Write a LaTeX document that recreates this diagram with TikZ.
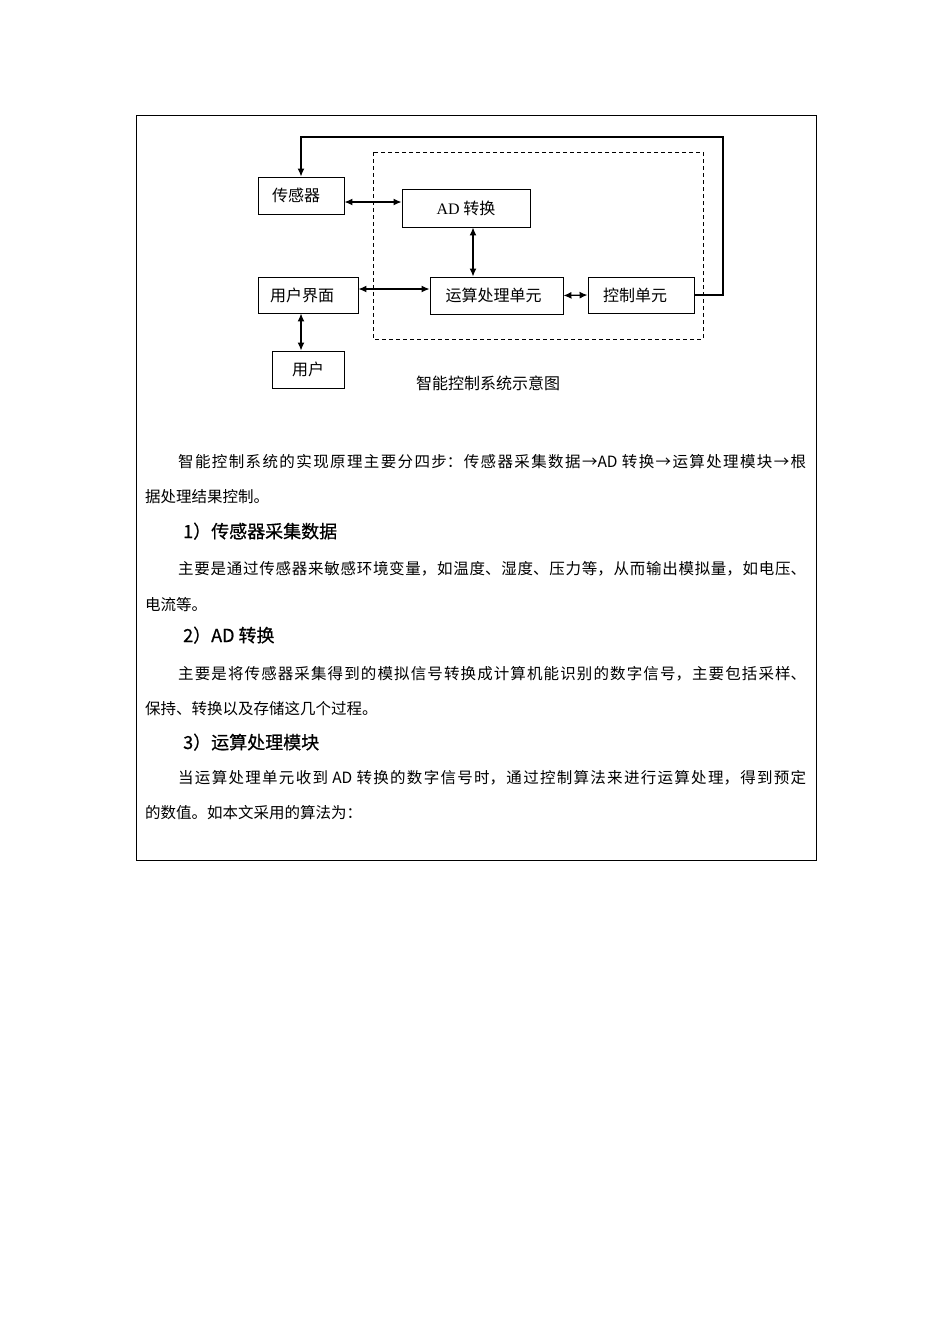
\documentclass[tikz,border=0pt]{standalone}
\usepackage{fontspec}
\setmainfont{Liberation Serif}
\newfontfamily\cjk{Noto Sans CJK SC}
\newfontfamily\cjkh[FakeBold=0.6]{Noto Sans CJK SC}
\usetikzlibrary{arrows.meta}
\XeTeXlinebreaklocale "zh"
\XeTeXlinebreakskip=0pt plus 3pt
\tikzset{
  box/.style={draw, line width=0.9pt, inner sep=0pt, minimum height=37pt,
    font=\cjk\fontsize{16}{18}\selectfont},
  dbl/.style={{Latex[length=8pt,width=7pt]}-{Latex[length=8pt,width=7pt]}, line width=1.3pt},
  one/.style={-{Latex[length=8pt,width=7pt]}, line width=1.3pt},
  txt/.style={anchor=base west, inner sep=0pt, font=\cjk\fontsize{15.5}{20}\selectfont},
  fullline/.style={txt, text width=628pt, align=justify,
    execute at begin node={\parindent=0pt\parfillskip=0pt\relax}},
  head/.style={anchor=base west, inner sep=0pt, font=\cjkh\fontsize{18}{22}\selectfont}
}
\begin{document}
\begin{tikzpicture}[x=1pt,y=-1pt]
  \useasboundingbox[fill=white] (0,0) rectangle (950,1344);
  \draw[line width=1pt] (136,115) rectangle (816,860);
  \draw[line width=0.8pt, dash pattern=on 4pt off 3pt] (373,152) rectangle (703,339);
  \node[box, minimum width=86pt] (cg) at (301,195.5) {传感器\hspace*{10pt}};
  \node[box, minimum width=128pt, minimum height=38pt] (ad) at (466,208) {{\rmfamily AD} 转换};
  \node[box, minimum width=100pt, minimum height=36pt] (ui) at (308,295) {用户界面\hspace*{12pt}};
  \node[box, minimum width=133pt] (ys) at (496.5,295.5) {运算处理单元\hspace*{6pt}};
  \node[box, minimum width=106pt, minimum height=36pt] (kz) at (641,295) {控制单元\hspace*{12pt}};
  \node[box, minimum width=72pt] (yh) at (308,369.5) {用户};
  \node[font=\cjk\fontsize{16}{18}\selectfont, inner sep=0pt] (cap) at (488,383) {智能控制系统示意图};
  \coordinate (rowA) at (0,202);
  \coordinate (rowB) at (0,289);
  \coordinate (colA) at (473,0);
  \coordinate (colB) at (301,0);
  \coordinate (fb) at (723,137);
  \begin{scope}
    \draw[dbl] (cg.east |- rowA) -- (ad.west |- rowA);
    \draw[dbl] (ad.south -| colA) -- (ys.north -| colA);
    \draw[dbl] (ui.east |- rowB) -- (ys.west |- rowB);
    \draw[dbl] (ys.east) -- (kz.west);
    \draw[dbl] (ui.south -| colB) -- (yh.north -| colB);
    \draw[one] (kz.east) -| (fb) -| (cg.north);
  \end{scope}
  \node[fullline] (p1) at (178,467) {智能控制系统的实现原理主要分四步：传感器采集数据→AD 转换→运算处理模块→根};
  \node[txt] (p1e) at (145,502) {据处理结果控制。};
  \node[head] (h1) at (183,538) {1）传感器采集数据};
  \node[fullline] (p2) at (178,574) {主要是通过传感器来敏感环境变量，如温度、湿度、压力等，从而输出模拟量，如电压、};
  \node[txt] (p2e) at (145,610) {电流等。};
  \node[head] (h2) at (183,642) {2）AD 转换};
  \node[fullline] (p3) at (178,679) {主要是将传感器采集得到的模拟信号转换成计算机能识别的数字信号，主要包括采样、};
  \node[txt] (p3e) at (145,714) {保持、转换以及存储这几个过程。};
  \node[head] (h3) at (183,749) {3）运算处理模块};
  \node[fullline] (p4) at (178,783) {当运算处理单元收到 AD 转换的数字信号时，通过控制算法来进行运算处理，得到预定};
  \node[txt] (p4e) at (145,818) {的数值。如本文采用的算法为：};
\end{tikzpicture}
\end{document}
